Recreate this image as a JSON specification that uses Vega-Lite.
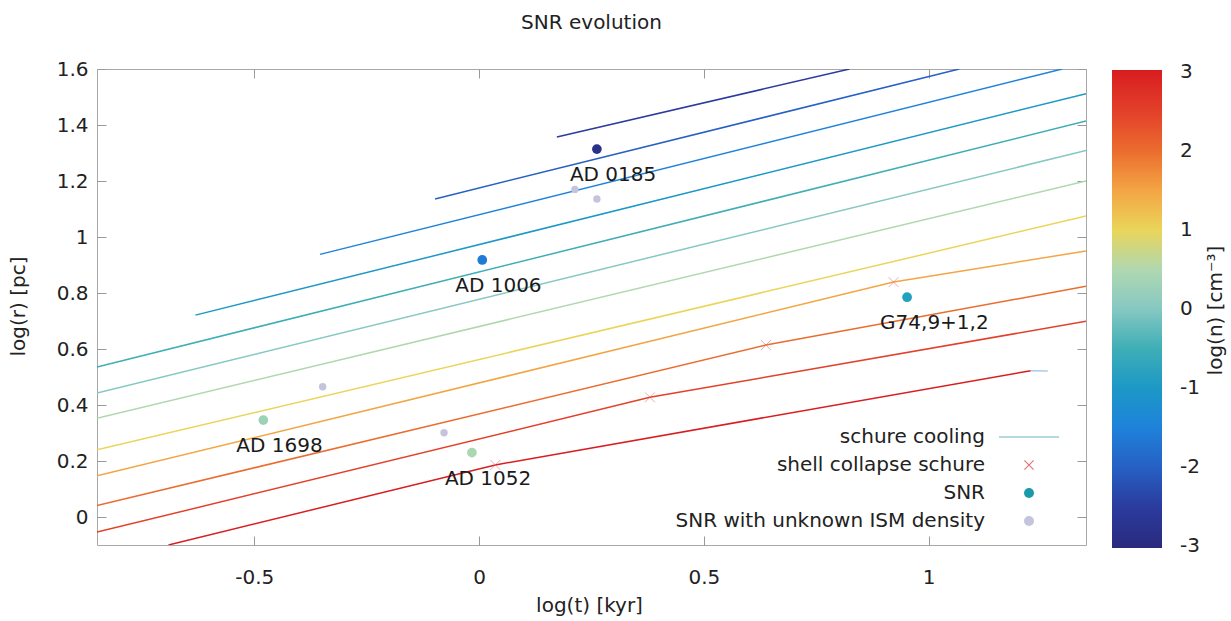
{
  "$schema": "https://vega.github.io/schema/vega-lite/v6.json",
  "width": 989,
  "height": 476,
  "autosize": {"type": "none"},
  "padding": {"left": 97, "top": 69, "right": 145, "bottom": 76},
  "background": "white",
  "title": {"text": "SNR evolution", "font": "DejaVu Sans", "fontSize": 20, "fontWeight": "normal", "color": "#222222", "anchor": "middle", "frame": "group", "baseline": "bottom", "offset": 6},
  "config": {
    "view": {"stroke": "#a8a8a8", "strokeWidth": 1},
    "axis": {"labelFont": "DejaVu Sans", "labelFontSize": 20, "labelColor": "#222222", "titleFont": "DejaVu Sans", "titleFontSize": 20, "titleFontWeight": "normal", "titleColor": "#222222", "grid": false, "domain": false, "tickColor": "#999999", "tickSize": -9, "tickWidth": 1},
    "legend": {"labelFont": "DejaVu Sans", "labelFontSize": 20, "labelColor": "#222222", "titleFont": "DejaVu Sans", "padding": 0}
  },
  "datasets": {
    "lines": [
      {"logn": -2.5, "x": 0.173, "y": 1.357}, {"logn": -2.5, "x": 0.824, "y": 1.6},
      {"logn": -2, "x": -0.098, "y": 1.136}, {"logn": -2, "x": 1.068, "y": 1.6},
      {"logn": -1.5, "x": -0.354, "y": 0.938}, {"logn": -1.5, "x": 1.297, "y": 1.6},
      {"logn": -1, "x": -0.631, "y": 0.721}, {"logn": -1, "x": 1.35, "y": 1.512},
      {"logn": -0.5, "x": -0.85, "y": 0.536}, {"logn": -0.5, "x": 1.35, "y": 1.414},
      {"logn": 0, "x": -0.85, "y": 0.443}, {"logn": 0, "x": 1.35, "y": 1.309},
      {"logn": 0.5, "x": -0.85, "y": 0.353}, {"logn": 0.5, "x": 1.35, "y": 1.2},
      {"logn": 1, "x": -0.85, "y": 0.24}, {"logn": 1, "x": 1.35, "y": 1.075},
      {"logn": 1.5, "x": -0.85, "y": 0.147}, {"logn": 1.5, "x": 0.922, "y": 0.839}, {"logn": 1.5, "x": 1.35, "y": 0.95},
      {"logn": 2, "x": -0.85, "y": 0.041}, {"logn": 2, "x": 0.638, "y": 0.614}, {"logn": 2, "x": 1.35, "y": 0.824},
      {"logn": 2.5, "x": -0.85, "y": -0.054}, {"logn": 2.5, "x": 0.38, "y": 0.4275}, {"logn": 2.5, "x": 1.35, "y": 0.699},
      {"logn": 3, "x": -0.691, "y": -0.1}, {"logn": 3, "x": 0.036, "y": 0.186}, {"logn": 3, "x": 1.227, "y": 0.5225}
    ],
    "kinks": [
      {"x": 0.036, "y": 0.186}, {"x": 0.38, "y": 0.4275}, {"x": 0.638, "y": 0.614}, {"x": 0.922, "y": 0.839}
    ],
    "cooling": [
      {"x": 1.227, "y": 0.5225}, {"x": 1.265, "y": 0.521}
    ],
    "snr": [
      {"name": "AD 0185", "x": 0.262, "y": 1.314, "logn": -2.8},
      {"name": "AD 1006", "x": 0.007, "y": 0.918, "logn": -1.6},
      {"name": "G74,9+1,2", "x": 0.952, "y": 0.785, "logn": -0.8},
      {"name": "AD 1698", "x": -0.48, "y": 0.346, "logn": 0.3},
      {"name": "AD 1052", "x": -0.016, "y": 0.23, "logn": 0.45}
    ],
    "unknown": [
      {"x": 0.213, "y": 1.17}, {"x": 0.262, "y": 1.136}, {"x": -0.348, "y": 0.465}, {"x": -0.078, "y": 0.301}
    ],
    "kinds": [
      {"kind": "schure cooling"}, {"kind": "shell collapse schure"}, {"kind": "SNR"}, {"kind": "SNR with unknown ISM density"}
    ]
  },
  "resolve": {"axis": {"x": "independent", "y": "independent"}, "scale": {"color": "independent"}},
  "layer": [
    {
      "data": {"name": "lines"},
      "mark": {"type": "line", "strokeWidth": 1.5, "clip": true},
      "encoding": {
        "x": {"field": "x", "type": "quantitative", "scale": {"domain": [-0.85, 1.35], "nice": false, "zero": false},
          "axis": {"orient": "bottom", "values": [-0.5, 0, 0.5, 1], "labelExpr": "'' + datum.value", "labelPadding": 31, "labelFlush": false, "title": "log(t) [kyr]", "titleX": 492, "titleY": 60, "titleBaseline": "middle", "titleAlign": "center"}},
        "y": {"field": "y", "type": "quantitative", "scale": {"domain": [-0.1, 1.6], "nice": false, "zero": false},
          "axis": {"orient": "left", "values": [0, 0.2, 0.4, 0.6, 0.8, 1, 1.2, 1.4, 1.6], "labelExpr": "'' + datum.value", "labelPadding": 18, "labelFlush": false, "title": "log(r) [pc]", "titleAngle": 270, "titleX": -79, "titleY": 237, "titleBaseline": "middle", "titleAlign": "center"}},
        "color": {"field": "logn", "type": "quantitative",
          "scale": {"type": "linear", "domain": [-3.02, -2.5, -2, -1.5, -1, -0.5, 0, 0.5, 1, 1.5, 2, 2.5, 3.02],
            "range": ["#2a2a7e", "#2b3b9e", "#2660c4", "#1e82da", "#1c98c6", "#3eaeb6", "#86c8c2", "#b0d8b0", "#ead55a", "#f3a544", "#eb6c2e", "#e3402a", "#d81c20"]},
          "legend": {"type": "gradient", "orient": "none", "legendX": 1015, "legendY": 1, "direction": "vertical", "gradientLength": 478, "gradientThickness": 50, "gradientStrokeWidth": 0, "values": [-3, -2, -1, 0, 1, 2, 3], "labelExpr": "'' + datum.value", "labelOffset": 18, "labelBaseline": "middle", "labelOverlap": false, "title": null}},
        "detail": {"field": "logn", "type": "nominal"}
      }
    },
    {
      "data": {"name": "kinks"},
      "mark": {"type": "point", "shape": "M-1,-1L1,1M-1,1L1,-1", "size": 100, "filled": false, "stroke": "#e06a6a", "strokeWidth": 1, "opacity": 0.55},
      "encoding": {
        "x": {"field": "x", "type": "quantitative", "scale": {"domain": [-0.85, 1.35], "nice": false, "zero": false}, "axis": null},
        "y": {"field": "y", "type": "quantitative", "scale": {"domain": [-0.1, 1.6], "nice": false, "zero": false}, "axis": null}
      }
    },
    {
      "data": {"name": "cooling"},
      "mark": {"type": "line", "stroke": "#a8cce8", "strokeWidth": 1.5},
      "encoding": {
        "x": {"field": "x", "type": "quantitative", "scale": {"domain": [-0.85, 1.35], "nice": false, "zero": false}, "axis": null},
        "y": {"field": "y", "type": "quantitative", "scale": {"domain": [-0.1, 1.6], "nice": false, "zero": false}, "axis": null}
      }
    },
    {
      "data": {"name": "unknown"},
      "mark": {"type": "point", "filled": true, "shape": "circle", "size": 55, "color": "#c4c4dc", "opacity": 1},
      "encoding": {
        "x": {"field": "x", "type": "quantitative", "scale": {"domain": [-0.85, 1.35], "nice": false, "zero": false}, "axis": null},
        "y": {"field": "y", "type": "quantitative", "scale": {"domain": [-0.1, 1.6], "nice": false, "zero": false}, "axis": null}
      }
    },
    {
      "data": {"name": "snr"},
      "mark": {"type": "point", "filled": true, "shape": "circle", "size": 95, "opacity": 1},
      "encoding": {
        "x": {"field": "x", "type": "quantitative", "scale": {"domain": [-0.85, 1.35], "nice": false, "zero": false}, "axis": null},
        "y": {"field": "y", "type": "quantitative", "scale": {"domain": [-0.1, 1.6], "nice": false, "zero": false}, "axis": null},
        "color": {"field": "logn", "type": "quantitative",
          "scale": {"type": "linear", "domain": [-3.02, -2.5, -2, -1.5, -1, -0.5, 0, 0.5, 1, 1.5, 2, 2.5, 3.02],
            "range": ["#2a2a7e", "#2b3b9e", "#2660c4", "#1e82da", "#1c98c6", "#3eaeb6", "#86c8c2", "#b0d8b0", "#ead55a", "#f3a544", "#eb6c2e", "#e3402a", "#d81c20"]},
          "legend": null}
      }
    },
    {
      "data": {"name": "snr"},
      "mark": {"type": "text", "align": "left", "baseline": "middle", "dx": -27, "dy": 26, "font": "DejaVu Sans", "fontSize": 20, "color": "#1a1a1a"},
      "encoding": {
        "x": {"field": "x", "type": "quantitative", "scale": {"domain": [-0.85, 1.35], "nice": false, "zero": false}, "axis": null},
        "y": {"field": "y", "type": "quantitative", "scale": {"domain": [-0.1, 1.6], "nice": false, "zero": false}, "axis": null},
        "text": {"field": "name", "type": "nominal"}
      }
    },
    {
      "data": {"name": "kinds"},
      "mark": {"type": "point", "filled": true, "opacity": 0, "size": 100},
      "encoding": {
        "fill": {"field": "kind", "type": "nominal",
          "scale": {"domain": ["schure cooling", "shell collapse schure", "SNR", "SNR with unknown ISM density"], "range": ["#9ccbd6", "#e07070", "#1a9aa8", "#c4c4dc"]},
          "legend": {"orient": "none", "legendX": 922, "legendY": 358, "title": null, "labelAlign": "right", "labelOffset": -54, "labelLimit": 400, "symbolSize": 100, "symbolStrokeWidth": 0, "symbolOpacity": 1, "rowPadding": 8, "labelBaseline": "middle"}},
        "shape": {"field": "kind", "type": "nominal",
          "scale": {"domain": ["schure cooling", "shell collapse schure", "SNR", "SNR with unknown ISM density"], "range": ["M-6,-0.15L6,-0.15L6,0.15L-6,0.15Z", "M-1,-0.85L-0.85,-1L1,0.85L0.85,1ZM-1,0.85L0.85,-1L1,-0.85L-0.85,1Z", "circle", "circle"]},
          "legend": {"orient": "none", "legendX": 922, "legendY": 358, "title": null, "labelAlign": "right", "labelOffset": -54, "labelLimit": 400, "symbolSize": 100, "symbolStrokeWidth": 0, "symbolOpacity": 1, "rowPadding": 8, "labelBaseline": "middle"}}
      }
    },
    {
      "data": {"name": "lines"},
      "mark": {"type": "point", "opacity": 0},
      "encoding": {
        "x": {"field": "x", "type": "quantitative", "scale": {"domain": [-0.85, 1.35], "nice": false, "zero": false},
          "axis": {"orient": "top", "values": [-0.5, 0, 0.5, 1], "labels": false, "title": null}},
        "y": {"field": "y", "type": "quantitative", "scale": {"domain": [-0.1, 1.6], "nice": false, "zero": false},
          "axis": {"orient": "right", "values": [0, 0.2, 0.4, 0.6, 0.8, 1, 1.2, 1.4, 1.6], "labels": false, "title": "log(n) [cm⁻³]", "titleAngle": 270, "titleX": 129, "titleY": 241, "titleBaseline": "middle", "titleAlign": "center"}}
      }
    }
  ]
}
